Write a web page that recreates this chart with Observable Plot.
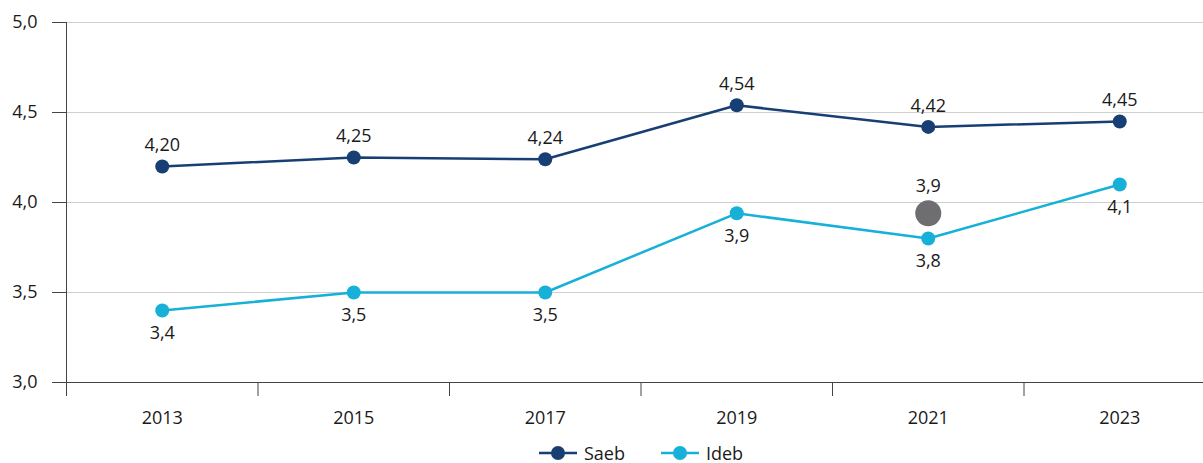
<!DOCTYPE html>
<html>
<head>
<meta charset="utf-8">
<script src="https://cdn.jsdelivr.net/npm/d3@7"></script>
<script src="https://cdn.jsdelivr.net/npm/@observablehq/plot@0.6"></script>
<style>
  html, body { margin: 0; padding: 0; background: #fff; overflow: hidden; width: 1203px; height: 463px; }
  body { font-family: "Open Sans", "Noto Sans", sans-serif; }
  #legend { position: absolute; left: 66px; width: 1150px; top: 440px; height: 26px; display: flex; justify-content: center; align-items: center; gap: 36px; font-size: 18px; line-height: 1; color: #1a1a1a; }
  .item { display: flex; align-items: center; gap: 7px; }
  .item span { line-height: 1; }
</style>
</head>
<body>
<div id="chart"></div>
<div id="legend"></div>
<script>
const years = [2013, 2015, 2017, 2019, 2021, 2023];
const saeb = [4.20, 4.25, 4.24, 4.54, 4.42, 4.45];
const saebLabels = ["4,20", "4,25", "4,24", "4,54", "4,42", "4,45"];
const ideb = [3.4, 3.5, 3.5, 3.94, 3.8, 4.1];
const idebLabels = ["3,4", "3,5", "3,5", "3,9", "3,8", "4,1"];
const extraYear = [2021];
const extraValue = [3.94];
const extraLabel = ["3,9"];
const yTicks = [3.0, 3.5, 4.0, 4.5, 5.0];
const xBoundaries = [2012, 2014, 2016, 2018, 2020, 2022];

const colors = { Saeb: "#183f74", Ideb: "#17b0d9" };
const grey = "#6e6e70";

const saebData = years.map((y, i) => ({ year: y, value: saeb[i], label: saebLabels[i] }));
const idebData = years.map((y, i) => ({ year: y, value: ideb[i], label: idebLabels[i] }));
const extraData = extraYear.map((y, i) => ({ year: y, value: extraValue[i], label: extraLabel[i] }));

const fmt = d => d.toFixed(1).replace(".", ",");
const textColor = "#1a1a1a";

const chart = Plot.plot({
  width: 1203,
  height: 440,
  marginLeft: 66,
  marginRight: 0,
  marginTop: 22,
  marginBottom: 58,
  style: { fontFamily: "'Open Sans', 'Noto Sans', sans-serif", fontSize: "18px", color: textColor, background: "#fff" },
  x: { type: "linear", domain: [2012, 2024], range: [66, 1215] },
  y: { domain: [3, 5] },
  marks: [
    Plot.ruleY(yTicks.slice(1), { stroke: "#cfcfcf", strokeWidth: 1 }),
    Plot.axisY({ ticks: yTicks, tickFormat: fmt, tickSize: 14, tickPadding: 15, fontSize: 18, stroke: "#444", strokeOpacity: 1, fill: textColor, label: null }),
    Plot.ruleY([3], { stroke: "#444", strokeWidth: 1 }),
    Plot.ruleX([2012], { stroke: "#444", strokeWidth: 1 }),
    Plot.axisX({ ticks: xBoundaries, tickFormat: () => "", tickSize: 14, stroke: "#444", strokeOpacity: 1, label: null }),
    Plot.axisX({ ticks: years, tickFormat: d => String(d), tickSize: 0, tickPadding: 29, fontSize: 18, fill: textColor, label: null }),
    Plot.line(saebData, { x: "year", y: "value", stroke: colors.Saeb, strokeWidth: 2.5 }),
    Plot.line(idebData, { x: "year", y: "value", stroke: colors.Ideb, strokeWidth: 2.5 }),
    Plot.dot(saebData, { x: "year", y: "value", r: 7, fill: colors.Saeb }),
    Plot.dot(idebData, { x: "year", y: "value", r: 7, fill: colors.Ideb }),
    Plot.dot(extraData, { x: "year", y: "value", r: 13, fill: grey }),
    Plot.text(saebData, { x: "year", y: "value", text: "label", dy: -21, fontSize: 18, fill: textColor }),
    Plot.text(idebData, { x: "year", y: "value", text: "label", dy: 23, fontSize: 18, fill: textColor }),
    Plot.text(extraData, { x: "year", y: "value", text: "label", dy: -27, fontSize: 18, fill: textColor })
  ]
});
document.getElementById("chart").append(chart);

const legend = document.getElementById("legend");
for (const name of ["Saeb", "Ideb"]) {
  const item = document.createElement("div");
  item.className = "item";
  item.innerHTML = `<svg width="38" height="16" style="display:block"><line x1="0" x2="38" y1="8" y2="8" stroke="${colors[name]}" stroke-width="2.5"/><circle cx="19" cy="8" r="7" fill="${colors[name]}"/></svg><span>${name}</span>`;
  legend.append(item);
}
</script>
</body>
</html>
